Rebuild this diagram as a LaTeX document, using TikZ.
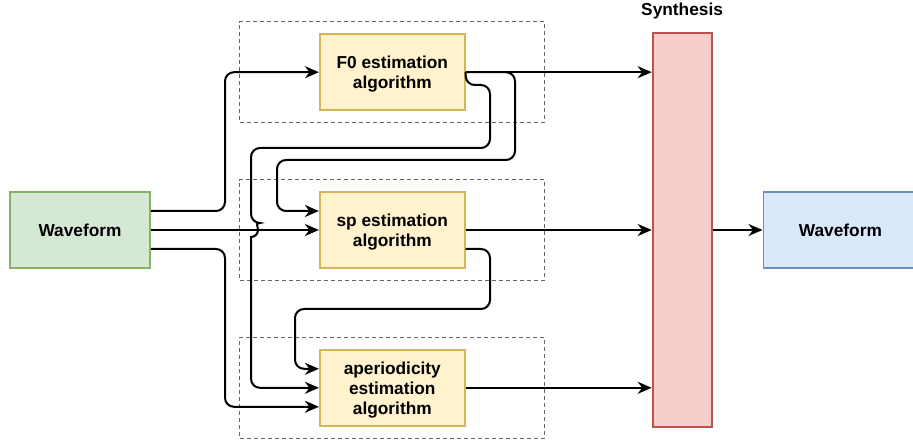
\documentclass[tikz,border=0pt]{standalone}
\usepackage{fontspec}
\setmainfont{Liberation Sans}
\usetikzlibrary{arrows.meta,positioning,fit}

\definecolor{inFill}{HTML}{D5E8D4}
\definecolor{inLine}{HTML}{82B366}
\definecolor{algFill}{HTML}{FFF2CC}
\definecolor{algLine}{HTML}{D6B656}
\definecolor{synFill}{HTML}{F8CECC}
\definecolor{synLine}{HTML}{B85450}
\definecolor{outFill}{HTML}{DAE8FC}
\definecolor{outLine}{HTML}{6C8EBF}
\definecolor{grpLine}{HTML}{666666}

\begin{document}
\begin{tikzpicture}[
	x = 1pt, y = 1pt,
	> = {Stealth[length=14pt, width=12pt, inset=4.5pt]}, % arrow head style
	line width = 1.8pt, % line style
	TXT/.style={font=\bfseries\fontsize{17.3}{20}\selectfont, text=black},
	WI/.style={rectangle, draw=inLine, fill=inFill, minimum width=140pt, minimum height=76pt, TXT},
	A/.style={rectangle, draw=algLine, fill=algFill, minimum width=145pt, minimum height=76pt, align=center, text depth=0pt, TXT},
	S/.style={rectangle, draw=synLine, fill=synFill, minimum width=59pt, minimum height=394pt},
	WO/.style={rectangle, draw=outLine, fill=outFill, minimum width=154pt, minimum height=76pt, TXT},
	G/.style={rectangle, draw=grpLine, line width=1pt, dash pattern=on 4pt off 3pt, inner xsep=79pt, inner ysep=11.5pt},
	C/.style={->, draw=black, line width=2pt, rounded corners=9pt},
	]
	\useasboundingbox (0,0) rectangle (913,446);

	% Nodes and their relative positions
	\node[WI] (wav) at (80,216) {Waveform};
	\node[A] (sp) [right = 168pt of wav] {sp estimation\\algorithm};
	\node[A] (f0) [above = 80pt of sp] {F0 estimation\\algorithm};
	\node[A] (aper) [below = 80pt of sp] {aperiodicity\\estimation\\algorithm};
	\node[S] (synth) [right = 186pt of sp] {};
	\node[TXT, inner sep=2pt] (synlabel) [above = 10pt of synth] {Synthesis};
	\node[WO] (wavout) [right = 50pt of synth] {Waveform};

	% Dashed frames round the estimators
	\node[G, fit=(f0)] (g1) {};
	\node[G, fit=(sp)] (g2) {};
	\node[G, fit=(aper)] (g3) {};

	% Paths from the input waveform
	\draw[C] ([yshift=19pt]wav.east) -- (225,235) |- (f0.west);
	\draw[C] (wav.east) -- (sp.west);
	\draw[C] ([yshift=-19pt]wav.east) -- (225,197) |- ([yshift=-19pt]aper.west);

	% Paths from F0
	\draw[C] (f0.east) -- (f0.east -| synth.west);
	\draw[C] (f0.east) -| (515,286) -- (277,286) |- ([yshift=19pt]sp.west);
	\draw[C] (f0.east) |- (490,361) -- (490,298) -| (251,223)
		[sharp corners] arc[start angle=90, end angle=-90, radius=7] -- (251,200)
		[rounded corners=9pt] |- (aper.west);

	% Paths from sp
	\draw[C] (sp.east) -- (sp.east -| synth.west);
	\draw[C] ([yshift=-19pt]sp.east) -| (490,137) -- (295,137) |- ([yshift=19pt]aper.west);

	% Paths to the output
	\draw[C] (aper.east) -- (aper.east -| synth.west);
	\draw[C] (synth.east) -- (wavout.west);

\end{tikzpicture}
\end{document}
